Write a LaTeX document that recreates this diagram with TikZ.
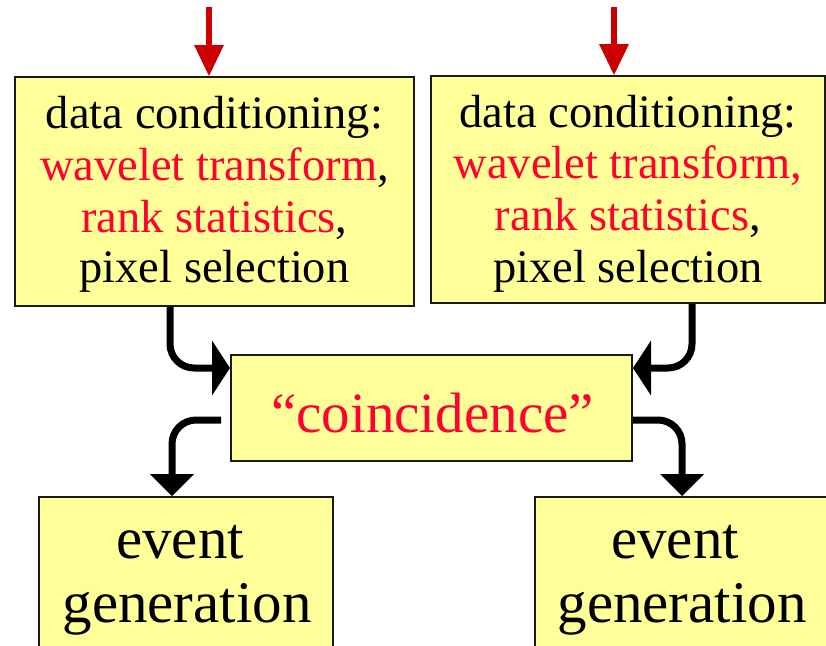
\documentclass[tikz,border=0pt]{standalone}
\usepackage{fontspec}
\newfontfamily\timesfont{Liberation Serif}
\usetikzlibrary{arrows.meta,calc}
\definecolor{boxfill}{HTML}{FFFF99}
\definecolor{hot}{HTML}{FF0030}
\definecolor{feed}{HTML}{CC0000}

\begin{document}
\begin{tikzpicture}[x=1pt,y=-1pt,
  box/.style={draw=black!90, line width=2pt, fill=boxfill, inner sep=0pt},
  stage/.style={anchor=base, inner sep=0pt, font=\timesfont\fontsize{46.5}{52}\selectfont},
  big/.style={anchor=base, inner sep=0pt, font=\timesfont\fontsize{57}{64}\selectfont},
  huge/.style={anchor=base, inner sep=0pt, font=\timesfont\fontsize{59}{64}\selectfont},
  feedarrow/.style={draw=feed, line width=6pt,
    -{Triangle[length=31pt,width=30pt,line width=0pt]}},
  flow/.style={draw=black, line width=7pt, rounded corners=24pt},
  intip/.style={-{Triangle[length=18pt,width=55pt,line width=0pt]}},
  outtip/.style={-{Triangle[length=22pt,width=44pt,line width=0pt]}},
]
\useasboundingbox (0,0) rectangle (826,645);
\clip (0,0) rectangle (826,645);

% boxes
\node[box, minimum width=399pt, minimum height=229pt] (dcL) at (214.5,191.5) {};
\node[box, minimum width=394pt, minimum height=227pt] (dcR) at (628,189.5) {};
\node[box, minimum width=401pt, minimum height=106pt] (co) at (431.5,408) {};
\node[box, minimum width=294pt, minimum height=250pt] (evL) at (186,622) {};
\node[box, minimum width=294pt, minimum height=250pt] (evR) at (682,622) {};

% texts of the conditioning stages
\node[stage] (tL1) at (214.5,128) {data conditioning:};
\node[stage] (tL2) at (214.5,180) {\textcolor{hot}{wavelet transform},};
\node[stage] (tL3) at (214.5,232) {\textcolor{hot}{rank statistics},};
\node[stage] (tL4) at (214.5,282) {pixel selection};
\node[stage] (tR1) at (628,127) {data conditioning:};
\node[stage] (tR2) at (628,178) {\textcolor{hot}{wavelet transform,}};
\node[stage] (tR3) at (628,230) {\textcolor{hot}{rank statistics},};
\node[stage] (tR4) at (628,282) {pixel selection};

% coincidence and event generation
\node[big] (tco) at (432.5,432) {\textcolor{hot}{“coincidence”}};
\node[huge] (tEL1) at (180,558) {event};
\node[huge] (tEL2) at (187,622) {generation};
\node[huge] (tER1) at (675,558) {event};
\node[huge] (tER2) at (682,622) {generation};

% helper rows and columns for the connectors
\coordinate (inL) at (209,7);
\coordinate (inR) at (614,7);
\coordinate (colL) at (170,0);
\coordinate (colR) at (692,0);
\coordinate (rowIn) at (0,368);
\coordinate (rowOut) at (0,420);
\coordinate (colEL) at (172,0);
\coordinate (colER) at (682,0);
\coordinate (outL) at (221,420);

% input arrows
\draw[feedarrow] (inL) -- (inL |- dcL.north);
\draw[feedarrow] (inR) -- (inR |- dcR.north);

% flow into and out of the coincidence stage
\draw[flow, intip] (dcL.south -| colL) |- (co.west |- rowIn);
\draw[flow, intip] (dcR.south -| colR) |- (co.east |- rowIn);
\draw[flow, outtip] (outL) -| (evL.north -| colEL);
\draw[flow, outtip] (co.east |- rowOut) -| (evR.north -| colER);
\end{tikzpicture}
\end{document}
